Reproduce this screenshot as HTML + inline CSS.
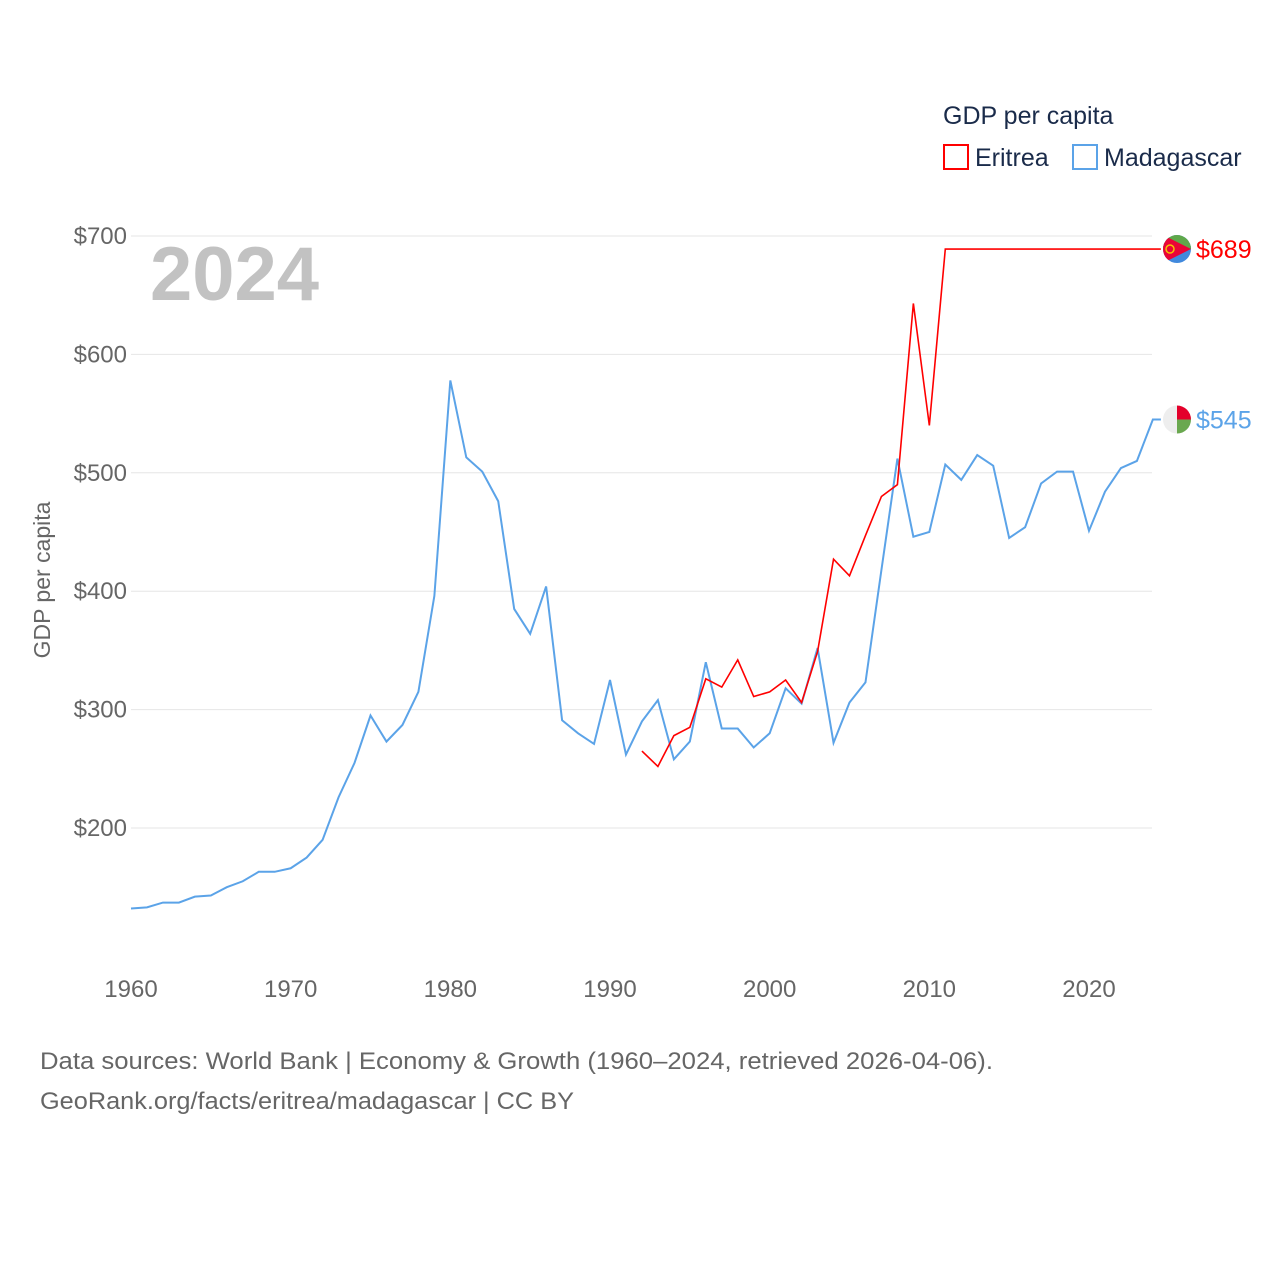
<!DOCTYPE html>
<html><head><meta charset="utf-8"><style>
body{margin:0;background:#fff;font-family:"Liberation Sans",sans-serif}
svg text{font-family:"Liberation Sans",sans-serif}
</style></head><body>
<svg id="c" width="1280" height="1280" viewBox="0 0 1280 1280">
<defs><clipPath id="ce"><circle cx="1177" cy="248" r="14"/></clipPath><clipPath id="cm"><circle cx="1177" cy="418" r="14"/></clipPath></defs>
<text x="943" y="124" font-size="25" fill="#1a2b4a">GDP per capita</text>
<g><rect x="944" y="145" width="24" height="24" fill="none" stroke="#f00" stroke-width="2"/><text x="975" y="166" font-size="25" fill="#1a2b4a">Eritrea</text></g>
<g><rect x="1073" y="145" width="24" height="24" fill="none" stroke="#5ba3e8" stroke-width="2"/><text x="1104" y="166" font-size="25" fill="#1a2b4a">Madagascar</text></g>
<text x="150" y="300" font-size="76" font-weight="bold" fill="#c2c2c2">2024</text>
<text transform="translate(50,580) rotate(-90)" text-anchor="middle" font-size="23" fill="#666">GDP per capita</text>
<g id="grid"></g><g id="xt"></g><g id="lines"></g>
<text x="40" y="1069" font-size="24" fill="#666" textLength="953" lengthAdjust="spacingAndGlyphs">Data sources: World Bank | Economy &amp; Growth (1960–2024, retrieved 2026-04-06).</text>
<text x="40" y="1109" font-size="24" fill="#666" textLength="534" lengthAdjust="spacingAndGlyphs">GeoRank.org/facts/eritrea/madagascar | CC BY</text>
</svg>
<script>
const yTicks=[200,300,400,500,600,700];
const xTicks=[1960,1970,1980,1990,2000,2010,2020];
const madYears0=1960;
const madagascar=[132,133,137,137,142,143,150,155,163,163,166,175,190,226,255,295,273,287,315,396,578,513,501,476,385,364,404,291,280,271,325,262,290,308,258,273,340,284,284,268,280,318,305,352,272,306,323,418,512,446,450,507,494,515,506,445,454,491,501,501,451,484,504,510,545];
const eriYears=[1992,1993,1994,1995,1996,1997,1998,1999,2000,2001,2002,2003,2004,2005,2006,2007,2008,2009,2010,2011,2024];
const eritrea=[265,252,278,285,326,319,342,311,315,325,306,349,427,413,447,480,490,643,540,689,689];
const X=y=>131+(y-1960)*958/60;
const Y=v=>236+(700-v)*1.184;
const ns='http://www.w3.org/2000/svg';
function mk(t,a,p){const e=document.createElementNS(ns,t);for(const k in a)e.setAttribute(k,a[k]);p.appendChild(e);return e;}
const g=document.getElementById('grid');
yTicks.forEach(v=>{
 const l=mk('line',{x1:131,x2:1152,y1:Y(v),y2:Y(v),stroke:'#e6e6e6','stroke-width':1},g);
 
 
 const t=mk('text',{x:127,y:Y(v)+8,'text-anchor':'end','font-size':24,fill:'#666'},g);
 t.textContent='$'+v;
 
 
});
const xt=document.getElementById('xt');
xTicks.forEach(v=>{
 const t=mk('text',{x:X(v),y:997,'text-anchor':'middle','font-size':24,fill:'#666'},xt);
 t.textContent=v;
 
 
});
const L=document.getElementById('lines');
let d=madagascar.map((v,i)=>(i?'L':'M')+X(madYears0+i)+','+Y(v)).join('')+'h8';
const pm=mk('path',{d:d,fill:'none',stroke:'#5ba3e8','stroke-width':2},L);


d=eritrea.map((v,i)=>(i?'L':'M')+X(eriYears[i])+','+Y(v)).join('')+'h8';
const pe=mk('path',{d:d,fill:'none',stroke:'#f00','stroke-width':1.6},L);


const ev=eritrea[eritrea.length-1],mv=madagascar[madagascar.length-1];
const ye=Y(ev),ym=Y(mv);
document.querySelector('#ce circle').setAttribute('cy',ye);
document.querySelector('#cm circle').setAttribute('cy',ym);
const fe=mk('g',{'clip-path':'url(#ce)'},L);
mk('rect',{x:1163,y:ye-14,width:28,height:28,fill:'#4189dd'},fe);
mk('path',{d:`M1163,${ye-14}h28v14h-28z`,fill:'#5fa84a'},fe);
mk('path',{d:`M1163,${ye-14}L1191,${ye}L1163,${ye+14}z`,fill:'#ea0437'},fe);
mk('circle',{cx:1170,cy:ye,r:4,fill:'none',stroke:'#f5c400','stroke-width':1.5},fe);
const fm=mk('g',{'clip-path':'url(#cm)'},L);
mk('rect',{x:1163,y:ym-14,width:28,height:28,fill:'#eee'},fm);
mk('rect',{x:1177,y:ym-14,width:14,height:14,fill:'#e4002b'},fm);
mk('rect',{x:1177,y:ym,width:14,height:14,fill:'#6aa84f'},fm);
const te=mk('text',{x:1196,y:ye+9,'font-size':25,fill:'#f00'},L);te.textContent='$'+ev;

const tm=mk('text',{x:1196,y:ym+9,'font-size':25,fill:'#5ba3e8'},L);tm.textContent='$'+mv;

</script>
</body></html>
